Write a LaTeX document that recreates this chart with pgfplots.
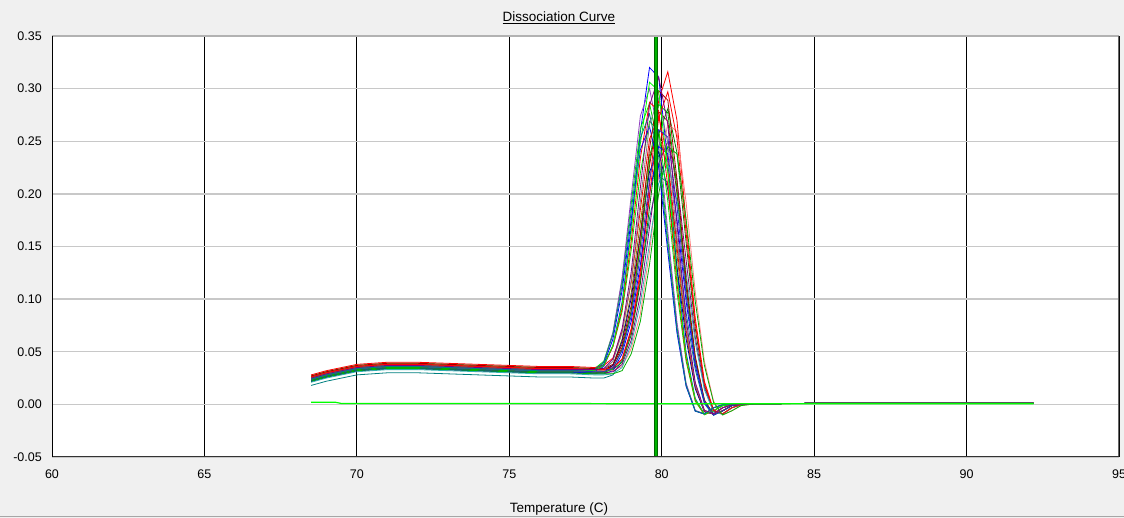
\documentclass[border=0pt]{standalone}
\usepackage{pgfplots}
\pgfplotsset{compat=1.18}
\usepackage{fontspec}
\setmainfont{Liberation Sans}
\definecolor{bg}{HTML}{F0F0F0}
\definecolor{cRed}{HTML}{FF0000}
\definecolor{cBlue}{HTML}{0000FF}
\definecolor{cLime}{HTML}{00E000}
\definecolor{cPurple}{HTML}{9040C0}
\definecolor{cTeal}{HTML}{008080}
\definecolor{cOlive}{HTML}{808000}
\definecolor{cMaroon}{HTML}{A00000}
\definecolor{cNavy}{HTML}{000090}
\definecolor{cGreen}{HTML}{008000}
\definecolor{cSalmon}{HTML}{FF8080}
\definecolor{cPurp2}{HTML}{800080}
\definecolor{cTeal2}{HTML}{30B0B0}
\definecolor{cGreen2}{HTML}{00B000}
\definecolor{cGray}{HTML}{808080}
\definecolor{cBlue2}{HTML}{3030C0}
\definecolor{gridgray}{HTML}{C8C8C8}
\begin{document}
\begin{tikzpicture}[x=1pt,y=1pt]
\useasboundingbox (0,0) rectangle (1124,518);
\fill[bg] (0,0) rectangle (1124,518);
\draw[color=gray!70, line width=1pt] (0,1.5)--(1124,1.5);
\node[font=\fontsize{13.5}{15}\selectfont] at (559,500) {\underline{Dissociation Curve}};
\node[font=\fontsize{13.5}{15}\selectfont] at (559,9) {Temperature (C)};
\begin{axis}[at={(52pt,61pt)}, anchor=south west, scale only axis,
  width=1067pt, height=421pt,
  xmin=60, xmax=95, ymin=-0.05, ymax=0.35,
  xtick={60,65,70,75,80,85,90,95},
  ytick={-0.05,0,0.05,0.1,0.15,0.2,0.25,0.3,0.35},
  axis background/.style={fill=white},
  axis line style={draw=none},
  major tick length=0pt,
  grid=major,
  major x grid style={black, line width=0.9pt},
  major y grid style={gridgray, line width=1.4pt},
  /pgf/number format/assume math mode=true,
  ticklabel style={font=\fontsize{12.5}{14}\selectfont},
  yticklabel style={/pgf/number format/fixed, /pgf/number format/fixed zerofill, /pgf/number format/precision=2, anchor=east, inner sep=0pt, xshift=-10pt},
  xticklabel style={anchor=north, inner sep=0pt, yshift=-13pt},
  no markers,
  every axis plot/.append style={line width=0.8pt},
  clip=true]
% curve data (temperature, derivative)
\addplot[cRed] coordinates {(68.5,.025)(69,.029)(69.5,.032)(70,.035)(71,.037)(72,.037)(73,.036)(74,.035)(75,.034)(76,.033)(77,.033)(77.8,.032)(78.1,.032)(78.4,.034)(78.7,.043)(79.0,.072)(79.3,.127)(79.6,.209)(79.9,.289)(80.2,.316)(80.5,.270)(80.8,.173)(81.1,.082)(81.4,.022)(81.7,-.0053)(82.0,-.0089)(82.3,-.0032)(82.6,-.0004)(83.0,.0005)(85,.001)(88,.001)(92.2,.001)};
\addplot[cBlue] coordinates {(68.5,.024)(69,.028)(69.5,.031)(70,.034)(71,.036)(72,.036)(73,.035)(74,.034)(75,.033)(76,.032)(77,.032)(77.8,.031)(78.1,.036)(78.4,.056)(78.7,.097)(79.0,.169)(79.3,.259)(79.6,.320)(79.9,.311)(80.2,.231)(80.5,.128)(80.8,.049)(81.1,.0055)(81.4,-.0092)(81.7,-.006)(82.0,-.0012)(82.3,0)(82.6,.0003)(83.0,.0005)(85,.001)(88,.001)(92.2,.001)};
\addplot[cLime] coordinates {(68.5,.025)(69,.029)(69.5,.032)(70,.035)(71,.037)(72,.037)(73,.036)(74,.035)(75,.034)(76,.033)(77,.033)(77.8,.034)(78.1,.041)(78.4,.068)(78.7,.118)(79.0,.191)(79.3,.262)(79.6,.286)(79.9,.244)(80.2,.157)(80.5,.074)(80.8,.019)(81.1,-.0061)(81.4,-.0091)(81.7,-.0032)(82.0,-.0004)(82.3,0)(82.6,.0003)(83.0,.0005)(85,.001)(88,.001)(92.2,.001)};
\addplot[cPurple] coordinates {(68.5,.023)(69,.027)(69.5,.030)(70,.033)(71,.035)(72,.035)(73,.034)(74,.033)(75,.032)(76,.031)(77,.031)(77.8,.032)(78.1,.040)(78.4,.068)(78.7,.120)(79.0,.198)(79.3,.274)(79.6,.300)(79.9,.256)(80.2,.164)(80.5,.078)(80.8,.020)(81.1,-.0057)(81.4,-.009)(81.7,-.0032)(82.0,-.0004)(82.3,0)(82.6,.0003)(83.0,.0005)(85,.001)(88,.001)(92.2,.001)};
\addplot[cTeal] coordinates {(68.5,.018)(69,.022)(69.5,.025)(70,.028)(71,.030)(72,.030)(73,.029)(74,.028)(75,.027)(76,.026)(77,.026)(77.8,.025)(78.1,.025)(78.4,.028)(78.7,.042)(79.0,.069)(79.3,.118)(79.6,.177)(79.9,.217)(80.2,.211)(80.5,.156)(80.8,.087)(81.1,.033)(81.4,.0006)(81.7,-.0104)(82.0,-.0062)(82.3,-.0012)(82.6,0)(83.0,.0005)(85,.001)(88,.001)(92.2,.001)};
\addplot[cOlive] coordinates {(68.5,.022)(69,.026)(69.5,.029)(70,.032)(71,.034)(72,.034)(73,.033)(74,.032)(75,.031)(76,.030)(77,.030)(77.8,.029)(78.1,.031)(78.4,.037)(78.7,.062)(79.0,.106)(79.3,.173)(79.6,.237)(79.9,.259)(80.2,.221)(80.5,.142)(80.8,.067)(81.1,.017)(81.4,-.0067)(81.7,-.0092)(82.0,-.0032)(82.3,-.0004)(82.6,0)(83.0,.0005)(85,.001)(88,.001)(92.2,.001)};
\addplot[cMaroon] coordinates {(68.5,.026)(69,.030)(69.5,.033)(70,.036)(71,.038)(72,.038)(73,.037)(74,.036)(75,.035)(76,.034)(77,.034)(77.8,.033)(78.1,.033)(78.4,.037)(78.7,.054)(79.0,.089)(79.3,.151)(79.6,.227)(79.9,.278)(80.2,.269)(80.5,.200)(80.8,.111)(81.1,.042)(81.4,.0033)(81.7,-.0097)(82.0,-.0061)(82.3,-.0012)(82.6,0)(83.0,.0005)(85,.001)(88,.001)(92.2,.001)};
\addplot[cNavy] coordinates {(68.5,.023)(69,.027)(69.5,.030)(70,.033)(71,.035)(72,.035)(73,.034)(74,.033)(75,.032)(76,.031)(77,.031)(77.8,.030)(78.1,.031)(78.4,.037)(78.7,.060)(79.0,.101)(79.3,.162)(79.6,.221)(79.9,.240)(80.2,.204)(80.5,.131)(80.8,.062)(81.1,.015)(81.4,-.0071)(81.7,-.0093)(82.0,-.0032)(82.3,-.0004)(82.6,0)(83.0,.0005)(85,.001)(88,.001)(92.2,.001)};
\addplot[cLime] coordinates {(68.5,.027)(69,.031)(69.5,.034)(70,.037)(71,.039)(72,.039)(73,.038)(74,.037)(75,.036)(76,.035)(77,.035)(77.8,.034)(78.1,.038)(78.4,.055)(78.7,.088)(79.0,.147)(79.3,.220)(79.6,.269)(79.9,.260)(80.2,.193)(80.5,.107)(80.8,.041)(81.1,.003)(81.4,-.0099)(81.7,-.0061)(82.0,-.0012)(82.3,0)(82.6,.0003)(83.0,.0005)(85,.001)(88,.001)(92.2,.001)};
\addplot[cRed] coordinates {(68.5,.028)(69,.032)(69.5,.035)(70,.038)(71,.040)(72,.040)(73,.039)(74,.038)(75,.037)(76,.036)(77,.036)(77.8,.035)(78.1,.037)(78.4,.044)(78.7,.069)(79.0,.116)(79.3,.185)(79.6,.252)(79.9,.274)(80.2,.233)(80.5,.150)(80.8,.071)(81.1,.018)(81.4,-.0064)(81.7,-.0092)(82.0,-.0032)(82.3,-.0004)(82.6,0)(83.0,.0005)(85,.001)(88,.001)(92.2,.001)};
\addplot[cGreen] coordinates {(68.5,.024)(69,.028)(69.5,.031)(70,.034)(71,.036)(72,.036)(73,.035)(74,.034)(75,.033)(76,.032)(77,.032)(77.8,.031)(78.1,.031)(78.4,.033)(78.7,.040)(79.0,.066)(79.3,.115)(79.6,.187)(79.9,.257)(80.2,.281)(80.5,.239)(80.8,.154)(81.1,.072)(81.4,.018)(81.7,-.0062)(82.0,-.0091)(82.3,-.0032)(82.6,-.0004)(83.0,.0005)(85,.001)(88,.001)(92.2,.001)};
\addplot[cBlue] coordinates {(68.5,.022)(69,.026)(69.5,.029)(70,.032)(71,.034)(72,.034)(73,.033)(74,.032)(75,.031)(76,.030)(77,.030)(77.8,.029)(78.1,.029)(78.4,.032)(78.7,.048)(79.0,.079)(79.3,.133)(79.6,.200)(79.9,.245)(80.2,.238)(80.5,.176)(80.8,.098)(81.1,.037)(81.4,.002)(81.7,-.0101)(82.0,-.0061)(82.3,-.0012)(82.6,0)(83.0,.0005)(85,.001)(88,.001)(92.2,.001)};
\addplot[cSalmon] coordinates {(68.5,.025)(69,.029)(69.5,.032)(70,.035)(71,.037)(72,.037)(73,.036)(74,.035)(75,.034)(76,.033)(77,.033)(77.8,.032)(78.1,.032)(78.4,.032)(78.7,.036)(79.0,.053)(79.3,.086)(79.6,.145)(79.9,.218)(80.2,.267)(80.5,.259)(80.8,.192)(81.1,.107)(81.4,.041)(81.7,.003)(82.0,-.0099)(82.3,-.0061)(82.6,-.0012)(83.0,.0003)(85,.001)(88,.001)(92.2,.001)};
\addplot[cPurp2] coordinates {(68.5,.023)(69,.027)(69.5,.030)(70,.033)(71,.035)(72,.035)(73,.034)(74,.033)(75,.032)(76,.031)(77,.031)(77.8,.030)(78.1,.030)(78.4,.031)(78.7,.038)(79.0,.061)(79.3,.104)(79.6,.168)(79.9,.229)(80.2,.250)(80.5,.213)(80.8,.137)(81.1,.064)(81.4,.016)(81.7,-.0069)(82.0,-.0093)(82.3,-.0032)(82.6,-.0004)(83.0,.0005)(85,.001)(88,.001)(92.2,.001)};
\addplot[cRed] coordinates {(68.5,.026)(69,.030)(69.5,.033)(70,.036)(71,.038)(72,.038)(73,.037)(74,.036)(75,.035)(76,.034)(77,.034)(77.8,.033)(78.1,.037)(78.4,.055)(78.7,.091)(79.0,.155)(79.3,.234)(79.6,.287)(79.9,.279)(80.2,.207)(80.5,.115)(80.8,.044)(81.1,.004)(81.4,-.0096)(81.7,-.0061)(82.0,-.0012)(82.3,0)(82.6,.0003)(83.0,.0005)(85,.001)(88,.001)(92.2,.001)};
\addplot[cTeal2] coordinates {(68.5,.021)(69,.025)(69.5,.028)(70,.031)(71,.033)(72,.033)(73,.032)(74,.031)(75,.030)(76,.029)(77,.029)(77.8,.028)(78.1,.028)(78.4,.029)(78.7,.035)(79.0,.057)(79.3,.096)(79.6,.153)(79.9,.210)(80.2,.228)(80.5,.194)(80.8,.125)(81.1,.059)(81.4,.014)(81.7,-.0074)(82.0,-.0094)(82.3,-.0032)(82.6,-.0004)(83.0,.0005)(85,.001)(88,.001)(92.2,.001)};
\addplot[cGreen2] coordinates {(68.5,.023)(69,.027)(69.5,.030)(70,.033)(71,.035)(72,.035)(73,.034)(74,.033)(75,.032)(76,.031)(77,.031)(77.8,.030)(78.1,.030)(78.4,.034)(78.7,.052)(79.0,.088)(79.3,.152)(79.6,.231)(79.9,.285)(80.2,.277)(80.5,.205)(80.8,.114)(81.1,.044)(81.4,.004)(81.7,-.0096)(82.0,-.0061)(82.3,-.0012)(82.6,0)(83.0,.0005)(85,.001)(88,.001)(92.2,.001)};
\addplot[cBlue] coordinates {(68.5,.022)(69,.026)(69.5,.029)(70,.032)(71,.034)(72,.034)(73,.033)(74,.032)(75,.031)(76,.030)(77,.030)(77.8,.031)(78.1,.038)(78.4,.062)(78.7,.108)(79.0,.176)(79.3,.242)(79.6,.264)(79.9,.225)(80.2,.145)(80.5,.068)(80.8,.017)(81.1,-.0065)(81.4,-.0092)(81.7,-.0032)(82.0,-.0004)(82.3,0)(82.6,.0003)(83.0,.0005)(85,.001)(88,.001)(92.2,.001)};
\addplot[cMaroon] coordinates {(68.5,.027)(69,.031)(69.5,.034)(70,.037)(71,.039)(72,.039)(73,.038)(74,.037)(75,.036)(76,.035)(77,.035)(77.8,.034)(78.1,.034)(78.4,.038)(78.7,.057)(79.0,.094)(79.3,.161)(79.6,.243)(79.9,.298)(80.2,.289)(80.5,.214)(80.8,.119)(81.1,.046)(81.4,.004)(81.7,-.0095)(82.0,-.006)(82.3,-.0012)(82.6,0)(83.0,.0005)(85,.001)(88,.001)(92.2,.001)};
\addplot[cGray] coordinates {(68.5,.024)(69,.028)(69.5,.031)(70,.034)(71,.036)(72,.036)(73,.035)(74,.034)(75,.033)(76,.032)(77,.032)(77.8,.031)(78.1,.033)(78.4,.041)(78.7,.068)(79.0,.118)(79.3,.193)(79.6,.266)(79.9,.291)(80.2,.248)(80.5,.159)(80.8,.075)(81.1,.019)(81.4,-.0059)(81.7,-.0091)(82.0,-.0032)(82.3,-.0004)(82.6,0)(83.0,.0005)(85,.001)(88,.001)(92.2,.001)};
\addplot[color=green] coordinates {(68.5,.025)(69,.029)(69.5,.032)(70,.035)(71,.037)(72,.037)(73,.036)(74,.035)(75,.034)(76,.033)(77,.033)(77.8,.032)(78.1,.037)(78.4,.056)(78.7,.095)(79.0,.164)(79.3,.248)(79.6,.306)(79.9,.298)(80.2,.221)(80.5,.122)(80.8,.047)(81.1,.005)(81.4,-.0094)(81.7,-.006)(82.0,-.0012)(82.3,0)(82.6,.0003)(83.0,.0005)(85,.001)(88,.001)(92.2,.001)};
\addplot[cRed] coordinates {(68.5,.026)(69,.030)(69.5,.033)(70,.036)(71,.038)(72,.038)(73,.037)(74,.036)(75,.035)(76,.034)(77,.034)(77.8,.033)(78.1,.033)(78.4,.035)(78.7,.043)(79.0,.070)(79.3,.122)(79.6,.198)(79.9,.272)(80.2,.297)(80.5,.253)(80.8,.163)(81.1,.077)(81.4,.020)(81.7,-.0058)(82.0,-.009)(82.3,-.0032)(82.6,-.0004)(83.0,.0005)(85,.001)(88,.001)(92.2,.001)};
\addplot[cBlue2] coordinates {(68.5,.024)(69,.028)(69.5,.031)(70,.034)(71,.036)(72,.036)(73,.035)(74,.034)(75,.033)(76,.032)(77,.032)(77.8,.031)(78.1,.031)(78.4,.035)(78.7,.051)(79.0,.084)(79.3,.142)(79.6,.213)(79.9,.261)(80.2,.254)(80.5,.188)(80.8,.104)(81.1,.040)(81.4,.003)(81.7,-.0099)(82.0,-.0061)(82.3,-.0012)(82.6,0)(83.0,.0005)(85,.001)(88,.001)(92.2,.001)};
\addplot[cTeal] coordinates {(68.5,.024)(69,.028)(69.5,.031)(70,.034)(71,.036)(72,.036)(73,.035)(74,.034)(75,.033)(76,.032)(77,.032)(77.8,.033)(78.1,.040)(78.4,.066)(78.7,.113)(79.0,.184)(79.3,.253)(79.6,.276)(79.9,.235)(80.2,.151)(80.5,.071)(80.8,.018)(81.1,-.0063)(81.4,-.0091)(81.7,-.0032)(82.0,-.0004)(82.3,0)(82.6,.0003)(83.0,.0005)(85,.001)(88,.001)(92.2,.001)};
\addplot[cGreen2] coordinates {(68.5,.022)(69,.026)(69.5,.029)(70,.032)(71,.034)(72,.034)(73,.033)(74,.032)(75,.031)(76,.030)(77,.030)(77.8,.029)(78.1,.029)(78.4,.029)(78.7,.032)(79.0,.048)(79.3,.079)(79.6,.133)(79.9,.200)(80.2,.245)(80.5,.238)(80.8,.176)(81.1,.098)(81.4,.037)(81.7,.002)(82.0,-.0101)(82.3,-.0061)(82.6,-.0012)(83.0,.0003)(85,.001)(88,.001)(92.2,.001)};
\addplot[cPurp2] coordinates {(68.5,.025)(69,.029)(69.5,.032)(70,.035)(71,.037)(72,.037)(73,.036)(74,.035)(75,.034)(76,.033)(77,.033)(77.8,.033)(78.1,.034)(78.4,.043)(78.7,.072)(79.0,.126)(79.3,.206)(79.6,.284)(79.9,.311)(80.2,.266)(80.5,.171)(80.8,.081)(81.1,.021)(81.4,-.0055)(81.7,-.009)(82.0,-.0032)(82.3,-.0004)(82.6,0)(83.0,.0005)(85,.001)(88,.001)(92.2,.001)};
% no-template control
\addplot[color=green, line width=1.2pt] coordinates {(68.5,.002)(69.3,.002)(69.5,.0008)(75,.0008)(77,.0008)(80,.0005)(83,.0005)(92.2,.0005)};
% Tm marker
\addplot[color=green!40!black, line width=4.5pt] coordinates {(79.82,-0.05)(79.82,0.35)};
\addplot[color=green!70!black, line width=1.8pt] coordinates {(79.82,-0.05)(79.82,0.35)};
% frame
\draw[color=gray!60, line width=1.5pt] (rel axis cs:0,1) -- (rel axis cs:1,1);
\draw[color=black!60, line width=1.5pt] (rel axis cs:1,1) -- (rel axis cs:1,0);
\draw[color=black!80, line width=1.5pt] (rel axis cs:0,0) -- (rel axis cs:1,0);
\draw[color=black, line width=1pt] (rel axis cs:0,0) -- (rel axis cs:0,1);
\end{axis}
\end{tikzpicture}
\end{document}
